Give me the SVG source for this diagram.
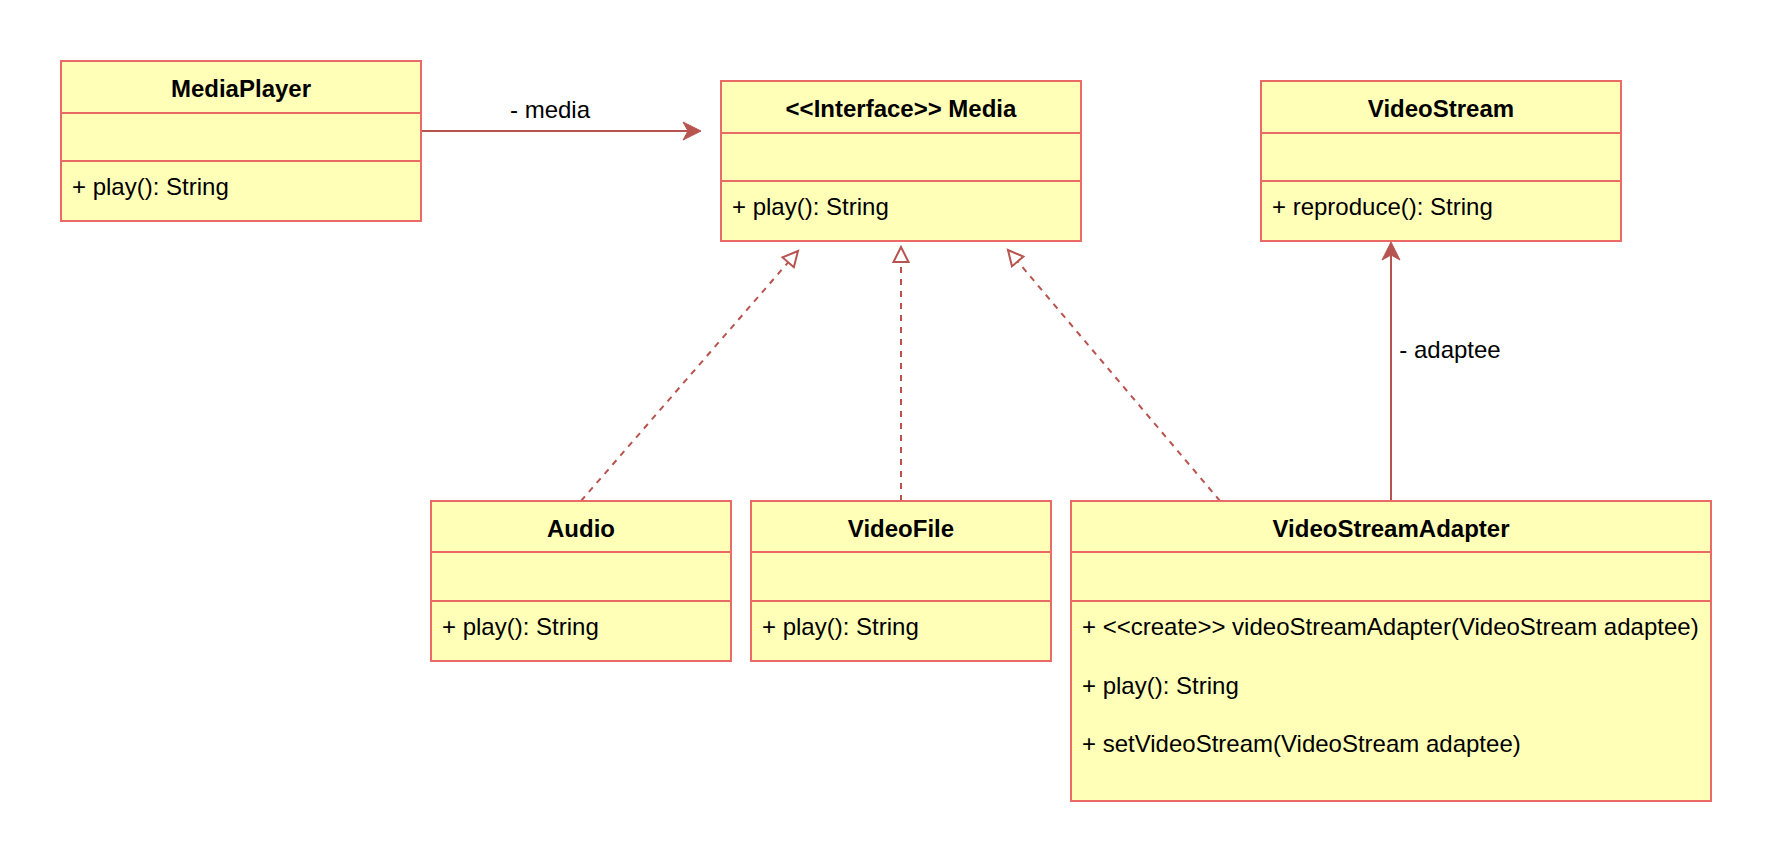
<svg xmlns="http://www.w3.org/2000/svg" width="1772" height="868" viewBox="0 0 1772 868">
<style>
.box{fill:#FFFFB8;stroke:#EA6B66;stroke-width:2}
.sep{stroke:#EA6B66;stroke-width:2}
.t{font-family:"Liberation Sans",Arial,Helvetica,sans-serif;font-size:24px;fill:#000}
.b{font-weight:bold;text-anchor:middle}
.lbl{text-anchor:middle}
.edge{fill:none;stroke:#B85450;stroke-width:2}
.dash{stroke-dasharray:6 6}
</style>
<defs>
<marker id="open" markerUnits="userSpaceOnUse" markerWidth="30" markerHeight="30" viewBox="-22 -15 30 30" refX="0" refY="0" orient="auto" overflow="visible">
<path d="M0,0 L-15,-7.5 L-15,7.5 Z" fill="#FFFFFF" stroke="#B85450" stroke-width="2" stroke-linejoin="miter"/>
</marker>
<marker id="classic" markerUnits="userSpaceOnUse" markerWidth="30" markerHeight="30" viewBox="-22 -15 30 30" refX="-13" refY="0" orient="auto" overflow="visible">
<path d="M0,0 L-18,-9 L-13,0 L-18,9 Z" fill="#B85450" stroke="#B85450" stroke-width="1"/>
</marker>
</defs>
<rect width="1772" height="868" fill="#FFFFFF"/>

<g id="connectors">
<path class="edge" d="M421,131 L688,131" marker-end="url(#classic)"/>
<text class="t lbl" x="550" y="118">- media</text>
<path class="edge dash" d="M581,501 L798,251" marker-end="url(#open)"/>
<path class="edge dash" d="M901,501 L901,247" marker-end="url(#open)"/>
<path class="edge dash" d="M1220,501 L1008,250" marker-end="url(#open)"/>
<path class="edge" d="M1391,501 L1391,255" marker-end="url(#classic)"/>
<text class="t lbl" x="1450" y="358">- adaptee</text>
</g>

<g id="MediaPlayer">
<rect class="box" x="61" y="61" width="360" height="160"/>
<line class="sep" x1="61" y1="113" x2="421" y2="113"/>
<line class="sep" x1="61" y1="161" x2="421" y2="161"/>
<text class="t b" x="241" y="96.5">MediaPlayer</text>
<text class="t" x="72" y="195">+ play(): String</text>
</g>

<g id="Media">
<rect class="box" x="721" y="81" width="360" height="160"/>
<line class="sep" x1="721" y1="133" x2="1081" y2="133"/>
<line class="sep" x1="721" y1="181" x2="1081" y2="181"/>
<text class="t b" x="901" y="116.5">&lt;&lt;Interface&gt;&gt; Media</text>
<text class="t" x="732" y="215">+ play(): String</text>
</g>

<g id="VideoStream">
<rect class="box" x="1261" y="81" width="360" height="160"/>
<line class="sep" x1="1261" y1="133" x2="1621" y2="133"/>
<line class="sep" x1="1261" y1="181" x2="1621" y2="181"/>
<text class="t b" x="1441" y="116.5">VideoStream</text>
<text class="t" x="1272" y="215">+ reproduce(): String</text>
</g>

<g id="Audio">
<rect class="box" x="431" y="501" width="300" height="160"/>
<line class="sep" x1="431" y1="552" x2="731" y2="552"/>
<line class="sep" x1="431" y1="601" x2="731" y2="601"/>
<text class="t b" x="581" y="536.5">Audio</text>
<text class="t" x="442" y="635">+ play(): String</text>
</g>

<g id="VideoFile">
<rect class="box" x="751" y="501" width="300" height="160"/>
<line class="sep" x1="751" y1="552" x2="1051" y2="552"/>
<line class="sep" x1="751" y1="601" x2="1051" y2="601"/>
<text class="t b" x="901" y="536.5">VideoFile</text>
<text class="t" x="762" y="635">+ play(): String</text>
</g>

<g id="VideoStreamAdapter">
<rect class="box" x="1071" y="501" width="640" height="300"/>
<line class="sep" x1="1071" y1="552" x2="1711" y2="552"/>
<line class="sep" x1="1071" y1="601" x2="1711" y2="601"/>
<text class="t b" x="1391" y="536.5">VideoStreamAdapter</text>
<text class="t" x="1082" y="635">+ &lt;&lt;create&gt;&gt; videoStreamAdapter(VideoStream adaptee)</text>
<text class="t" x="1082" y="693.5">+ play(): String</text>
<text class="t" x="1082" y="752">+ setVideoStream(VideoStream adaptee)</text>
</g>
</svg>
